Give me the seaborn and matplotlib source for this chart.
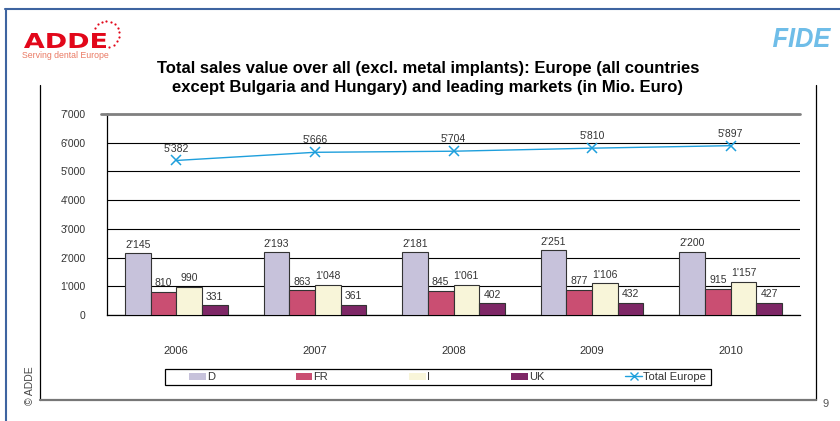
import numpy as np
import pandas as pd
import seaborn as sns
import matplotlib.pyplot as plt
from matplotlib.lines import Line2D
from matplotlib.patches import Patch, PathPatch, Rectangle
from matplotlib.textpath import TextPath
from matplotlib.font_manager import FontProperties
from matplotlib.transforms import Affine2D
from matplotlib.ticker import FuncFormatter

years = ["2006", "2007", "2008", "2009", "2010"]
markets = ["D", "FR", "I", "UK"]
sales_d = [2145, 2193, 2181, 2251, 2200]
sales_fr = [810, 863, 845, 877, 915]
sales_i = [990, 1048, 1061, 1106, 1157]
sales_uk = [331, 361, 402, 432, 427]
total_europe = [5382, 5666, 5704, 5810, 5897]
y_ticks = [0, 1000, 2000, 3000, 4000, 5000, 6000, 7000]

colors = ["#C7C2DB", "#CA4E72", "#F8F5D9", "#7E2766"]
line_color = "#1E9FDC"

sns.set_theme(style="white")
plt.rcParams["font.family"] = ["Liberation Sans", "DejaVu Sans"]


def fmt(v):
    return "{:,}".format(int(v)).replace(",", "'")


df = pd.DataFrame({
    "year": years * 4,
    "market": np.repeat(markets, len(years)),
    "value": sales_d + sales_fr + sales_i + sales_uk,
})

fig = plt.figure(figsize=(8.4, 4.21), dpi=100)
fig.patch.set_facecolor("white")

# decoration layer in pixel coordinates
deco = fig.add_axes([0, 0, 1, 1], zorder=0)
deco.set_xlim(0, 840)
deco.set_ylim(421, 0)
deco.axis("off")

ax = fig.add_axes([107 / 840, 1 - 315 / 421, (800 - 107) / 840, (315 - 114) / 421], zorder=2)
ax.patch.set_alpha(0)

sns.barplot(data=df, x="year", y="value", hue="market", palette=colors,
            saturation=1, width=0.74, edgecolor="#333333", linewidth=0.8,
            legend=False, ax=ax, zorder=3)

for cont, vals in zip(ax.containers, [sales_d, sales_fr, sales_i, sales_uk]):
    ax.bar_label(cont, labels=[fmt(v) for v in vals], padding=2.5,
                 fontsize=7.5, color="#333333")

xpos = np.arange(len(years))
ax.plot(xpos, total_europe, color=line_color, lw=1, marker="x",
        markersize=7, markeredgewidth=1.1, zorder=4)
for x, v in zip(xpos, total_europe):
    ax.annotate(fmt(v), (x, v), xytext=(0, 5), textcoords="offset points",
                ha="center", va="bottom", fontsize=7.5, color="#333333")

ax.set_xlim(-0.5, len(years) - 0.5)
ax.set_ylim(0, 7000)
ax.set_yticks(y_ticks)
ax.yaxis.set_major_formatter(FuncFormatter(lambda v, p: fmt(v)))
ax.set_xticks(xpos)
ax.set_xticklabels(years, fontsize=8, color="#333333")
ax.set_xticks(np.arange(len(years) + 1) - 0.5, minor=True)
ax.tick_params(axis="x", which="major", length=0, pad=22)
ax.tick_params(axis="x", which="minor", length=5, width=0.9, color="black", direction="out")
ax.tick_params(axis="y", length=3.5, width=0.8, color="black", direction="out",
               pad=12, labelsize=7.5, labelcolor="#333333")
ax.yaxis.grid(True, color="black", lw=0.8)
ax.set_axisbelow(True)
ax.set_xlabel("")
ax.set_ylabel("")
for s in ["top", "right"]:
    ax.spines[s].set_visible(False)
for s in ["left", "bottom"]:
    ax.spines[s].set_color("black")
    ax.spines[s].set_linewidth(0.9)
ax.axhline(7000, color="#808080", lw=2, zorder=5, clip_on=False)
ax.plot([-0.5 - 0.04, -0.5], [7000, 7000], color="#808080", lw=2, zorder=5, clip_on=False)

handles = [Patch(facecolor=c, edgecolor="none") for c in colors]
handles.append(Line2D([], [], color=line_color, lw=1, marker="x", markersize=6))
leg = fig.legend(handles, markets + ["Total Europe"], ncol=5, mode="expand",
                 loc="center", bbox_to_anchor=(189 / 840, 1 - 385 / 421, 517 / 840, 16 / 421),
                 fontsize=8, frameon=False, handlelength=1.5,
                 handleheight=0.6, handletextpad=0.1, borderpad=0,
                 borderaxespad=0)
for t in leg.get_texts():
    t.set_color("#333333")
deco.add_patch(Rectangle((165, 369), 546, 16, facecolor="none", edgecolor="black", lw=0.9))

# slide frame
deco.plot([5, 840], [9, 9], color="#3E64A0", lw=1.5)
deco.plot([6, 6], [9, 421], color="#3E64A0", lw=1.5)

# chart box
deco.plot([40, 40], [85, 400], color="black", lw=0.9)
deco.plot([816, 816], [85, 400], color="black", lw=0.9)
deco.plot([40, 816], [400, 400], color="#777777", lw=1.6)

deco.text(428, 78, "Total sales value over all (excl. metal implants): Europe (all countries\n"
          "except Bulgaria and Hungary) and leading markets (in Mio. Euro)",
          ha="center", va="center", fontsize=12, fontweight="bold", color="black",
          linespacing=1.32)

deco.text(30, 386, "© ADDE", rotation=90, ha="center", va="center", fontsize=7.5, color="#444444")
deco.text(826, 404, "9", ha="center", va="center", fontsize=8, color="#555555")


def logo_text(text, box, prop, color):
    tp = TextPath((0, 0), text, size=1, prop=prop)
    ext = tp.get_extents()
    x0, y0, x1, y1 = box
    sx = (x1 - x0) / ext.width
    sy = (y1 - y0) / ext.height
    tr = Affine2D().translate(-ext.x0, -ext.y0).scale(sx, -sy).translate(x0, y1)
    deco.add_patch(PathPatch(tr.transform_path(tp), facecolor=color, edgecolor="none",
                             transform=deco.transData))


logo_text("ADDE", (24, 33, 106, 48), FontProperties(family="DejaVu Sans", weight="bold"), "#E2071A")
ang = np.linspace(np.radians(150), np.radians(-75), 12)
deco.scatter(106 + 13 * np.cos(ang), 34 - 13 * np.sin(ang), s=2.5, color="#E2071A", lw=0)
deco.text(22, 55, "Serving dental Europe", ha="left", va="center", fontsize=6.3, color="#EA7A64")
logo_text("FIDE", (773, 28, 831, 47),
          FontProperties(family="Liberation Sans", weight="bold", style="italic"), "#6FBDE8")

fig.savefig("out.png", dpi=100)
